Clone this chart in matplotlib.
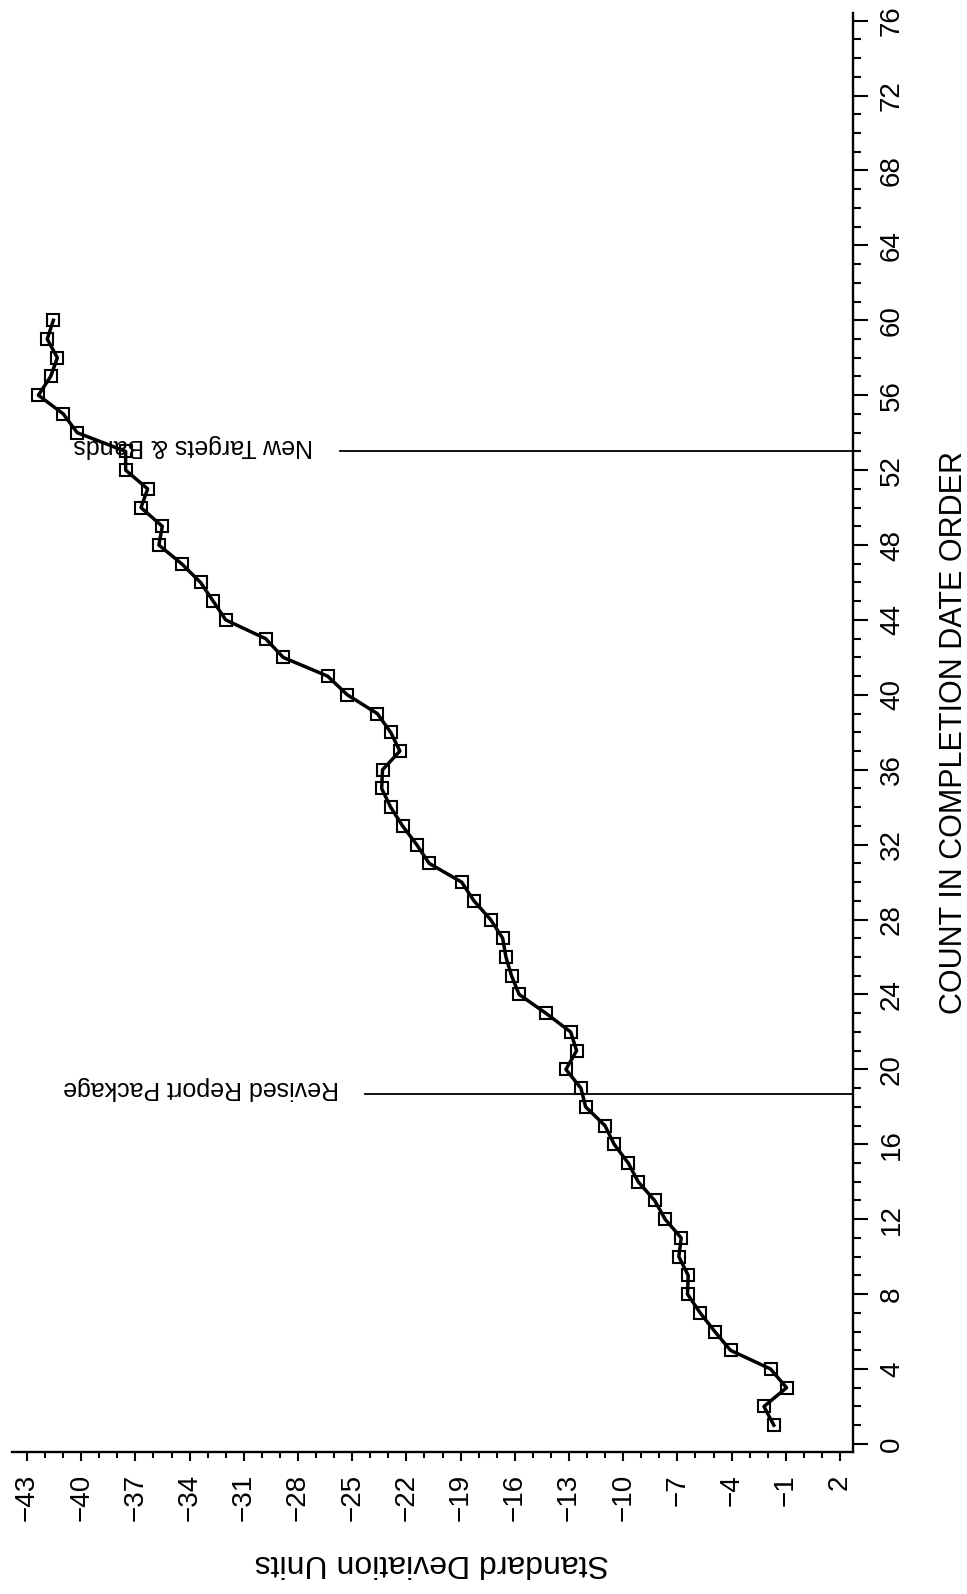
import matplotlib
matplotlib.use("Agg")
import matplotlib.pyplot as plt
from matplotlib.ticker import MultipleLocator

plt.rcParams['font.family'] = ['Liberation Sans', 'DejaVu Sans']

# cumulative standard deviation units, one per completed item
counts = list(range(1, 61))
sd_units = [-1.66, -2.21, -0.96, -1.84, -4.06, -4.93, -5.74, -6.44, -6.40, -6.92,
            -6.79, -7.68, -8.26, -9.17, -9.72, -10.50, -11.01, -12.08, -12.34, -13.17,
            -12.58, -12.91, -14.28, -15.76, -16.18, -16.49, -16.67, -17.34, -18.26, -18.94,
            -20.74, -21.43, -22.21, -22.87, -23.37, -23.32, -22.36, -22.87, -23.61, -25.27,
            -26.36, -28.82, -29.79, -32.00, -32.69, -33.39, -34.44, -35.70, -35.51, -36.69,
            -36.32, -37.54, -37.54, -40.22, -40.99, -42.37, -41.69, -41.32, -41.88, -41.54]

# process changes marked along the count axis
event_counts = [18.7, 53]
event_starts = [-24.3, -25.7]
event_labels = ["Revised Report Package", "New Targets & Bands"]

sd_ticks = list(range(-43, 3, 3))
count_ticks = list(range(0, 77, 4))

fig = plt.figure(figsize=(9.67, 15.94), dpi=100)
ax = fig.add_axes([12/967, 142/1594, 841/967, 1439/1594])

ax.plot(sd_units, counts, color='black', lw=2.5, marker='s', ms=8,
        mfc='none', mec='black', mew=1.5)

for c, start, label in zip(event_counts, event_starts, event_labels):
    ax.plot([start, 2.72], [c, c], color='black', lw=1.3)
    ax.text(start - 1.45, c + 0.3, label, rotation=180, fontsize=18,
            ha='right', va='center')

ax.set_xlim(-43.83, 2.72)
ax.set_ylim(-0.43, 76.41)

ax.spines['top'].set_visible(False)
ax.spines['left'].set_visible(False)
ax.spines['right'].set_linewidth(1.7)
ax.spines['bottom'].set_linewidth(1.7)

ax.set_xticks(sd_ticks)
ax.xaxis.set_minor_locator(MultipleLocator(1))
ax.yaxis.tick_right()
ax.set_yticks(count_ticks)
ax.yaxis.set_minor_locator(MultipleLocator(1))

ax.tick_params(axis='x', which='major', direction='out', length=6.5, width=1.5,
               pad=9.5, labelsize=20, labelrotation=90)
ax.tick_params(axis='x', which='minor', direction='out', length=4, width=1.5)
ax.tick_params(axis='y', which='major', direction='out', length=10.8, width=1.5,
               pad=8, labelsize=20, labelrotation=90)
ax.tick_params(axis='y', which='minor', direction='out', length=5.8, width=1.5)
for lab in ax.get_yticklabels():
    lab.set_va('center')
    lab.set_ha('left')

fig.text(954/967, 0.5 * (142 + 1581) / 1594, "COUNT IN COMPLETION DATE ORDER",
         rotation=90, fontsize=22, ha='center', va='center')
fig.text(432/967, 31/1594, "Standard Deviation Units",
         rotation=180, fontsize=23, ha='center', va='center')

fig.savefig("out.png", dpi=100)
